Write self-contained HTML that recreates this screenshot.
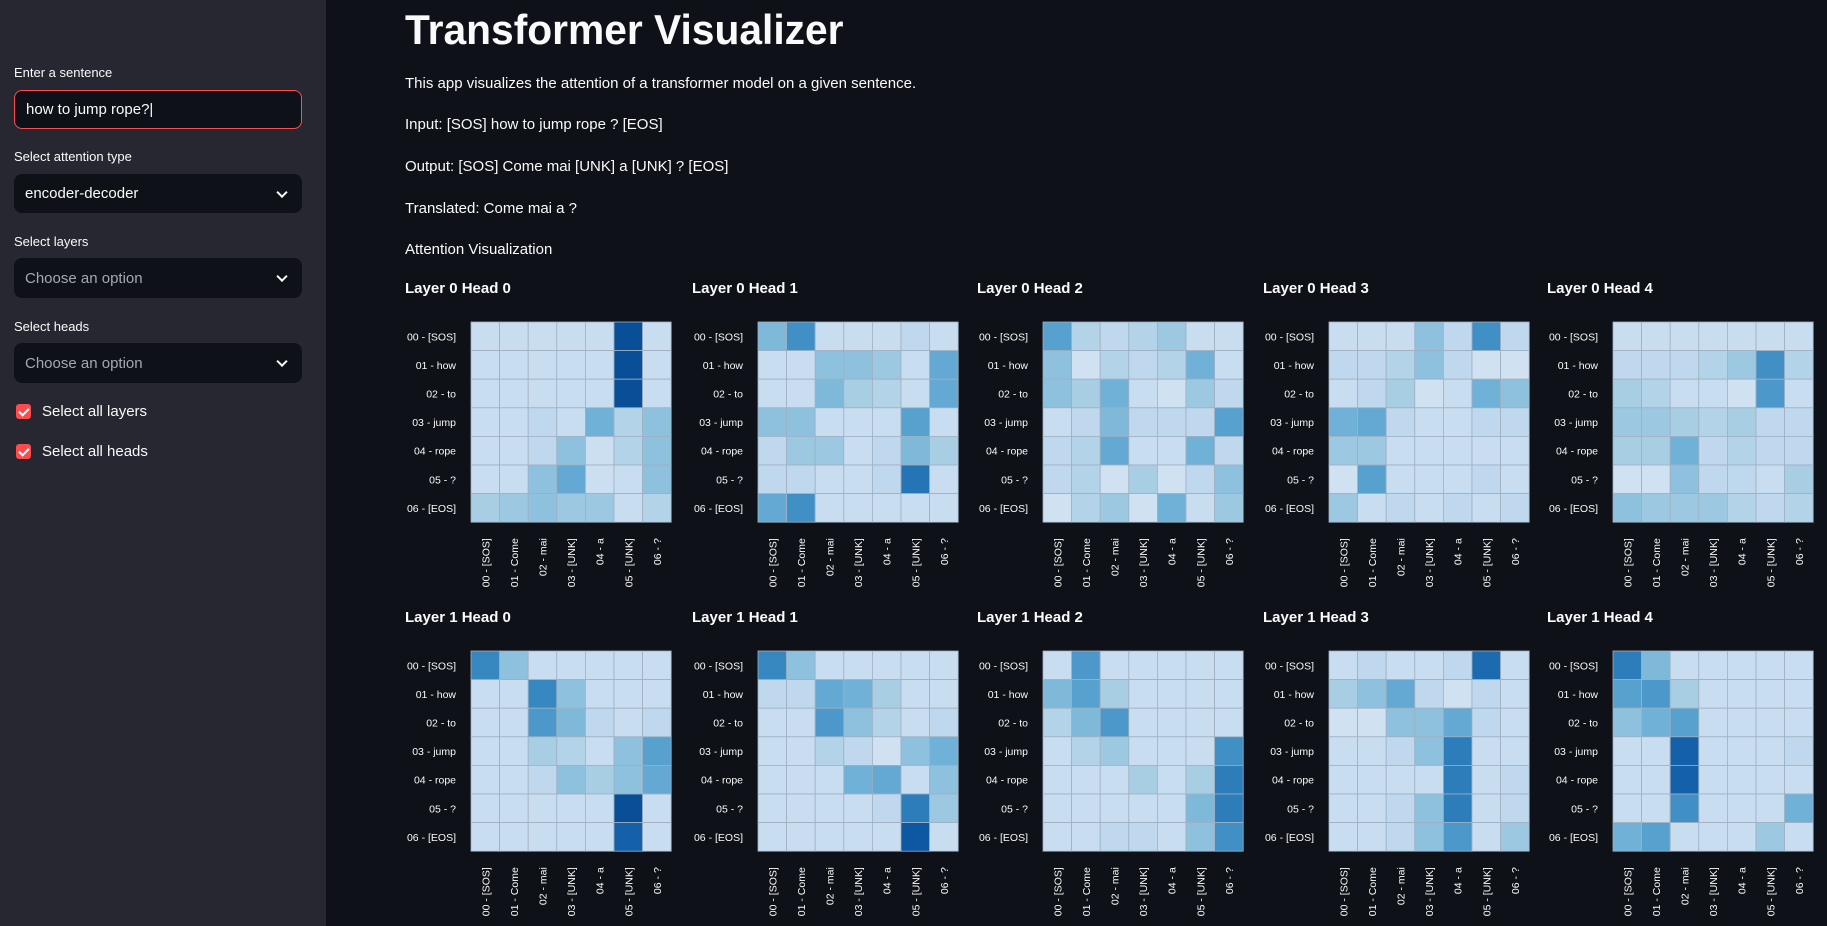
<!DOCTYPE html>
<html><head><meta charset="utf-8">
<style>
*{box-sizing:border-box;margin:0;padding:0}
body{width:1827px;height:926px;overflow:hidden;background:#0e1117;font-family:"Liberation Sans",sans-serif;color:#fafafa;position:relative}
#sidebar{position:absolute;left:0;top:0;width:326px;height:926px;background:#262730}
.lbl{position:absolute;left:14px;font-size:13px;color:#fafafa}
.box{position:absolute;left:14px;width:288px;border-radius:8px;background:#0e1117;font-size:15px;padding-left:11px;display:flex;align-items:center}
.chev{position:absolute;right:16px;top:50%;width:8px;height:8px;border-right:2px solid #fafafa;border-bottom:2px solid #fafafa;transform:translateY(-70%) rotate(45deg)}
.cb{position:absolute;left:16px;width:15px;height:15px;border-radius:3px;background:#ff4b4b}
.cb:after{content:"";position:absolute;left:4.5px;top:1.5px;width:4px;height:8px;border-right:2px solid #fff;border-bottom:2px solid #fff;transform:rotate(45deg)}
.cbl{position:absolute;left:42px;font-size:15px}
.t{position:absolute;left:405px;font-size:15px;white-space:nowrap}
#title{position:absolute;left:405px;top:6px;font-size:42px;font-weight:bold;white-space:nowrap;transform-origin:left top;transform:scaleX(0.97)}
svg{position:absolute;left:0;top:0}
</style></head><body>
<div id="sidebar">
  <div class="lbl" style="top:65px">Enter a sentence</div>
  <div class="box" style="top:90px;height:39px;border:1px solid #ff4b4b">how to jump rope?|</div>
  <div class="lbl" style="top:149px">Select attention type</div>
  <div class="box" style="top:174px;height:39px">encoder-decoder<span class="chev"></span></div>
  <div class="lbl" style="top:234px">Select layers</div>
  <div class="box" style="top:258px;height:40px;color:#a3a8b4">Choose an option<span class="chev"></span></div>
  <div class="lbl" style="top:319px">Select heads</div>
  <div class="box" style="top:343px;height:40px;color:#a3a8b4">Choose an option<span class="chev"></span></div>
  <div class="cb" style="top:404px"></div>
  <div class="cbl" style="top:403px">Select all layers</div>
  <div class="cb" style="top:444px"></div>
  <div class="cbl" style="top:443px">Select all heads</div>
</div>
<div id="title">Transformer Visualizer</div>
<div class="t" style="top:75px">This app visualizes the attention of a transformer model on a given sentence.</div>
<div class="t" style="top:116px">Input: [SOS] how to jump rope ? [EOS]</div>
<div class="t" style="top:158px">Output: [SOS] Come mai [UNK] a [UNK] ? [EOS]</div>
<div class="t" style="top:200px">Translated: Come mai a ?</div>
<div class="t" style="top:241px">Attention Visualization</div>
<svg id="charts" width="1827" height="926"></svg>
<script>
const rowLabels=["00 - [SOS]","01 - how","02 - to","03 - jump","04 - rope","05 - ?","06 - [EOS]"];
const colLabels=["00 - [SOS]","01 - Come","02 - mai","03 - [UNK]","04 - a","05 - [UNK]","06 - ?"];
const titles=["Layer 0 Head 0","Layer 0 Head 1","Layer 0 Head 2","Layer 0 Head 3","Layer 0 Head 4","Layer 1 Head 0","Layer 1 Head 1","Layer 1 Head 2","Layer 1 Head 3","Layer 1 Head 4"];
const L0H0=[[.05,.05,.05,.05,.05,.95,.05],[.05,.05,.05,.05,.05,.95,.05],[.05,.05,.05,.05,.05,.95,.05],[.05,.05,.1,.05,.4,.15,.3],[.05,.05,.1,.3,.03,.15,.3],[.05,.05,.3,.45,.03,.05,.3],[.2,.25,.3,.25,.25,.05,.15]];
const L0H1=[[.35,.6,.05,.05,.05,.1,.05],[.05,.05,.3,.3,.25,.05,.45],[.05,.05,.35,.2,.15,.05,.45],[.3,.3,.05,.05,.05,.5,.05],[.1,.25,.25,.05,.1,.35,.2],[.1,.1,.05,.05,.1,.75,.05],[.45,.6,.05,.05,.05,.05,.05]];
const L0H2=[[.5,.15,.1,.15,.25,.05,.05],[.3,0,.15,.1,.15,.4,.05],[.3,.2,.4,.05,0,.25,.1],[.05,.1,.35,.1,.1,.1,.5],[.1,.15,.45,.05,.05,.4,.1],[.1,.15,0,.2,0,.1,.3],[0,.15,.25,0,.4,.05,.25]];
const L0H3=[[.05,.05,.05,.3,.1,.6,.1],[.1,.1,.15,.3,.1,0,0],[.05,.1,.2,0,.05,.4,.3],[.4,.45,.1,.05,.05,.1,.1],[.25,.25,.05,.05,.05,.05,.05],[0,.5,.05,.05,.05,.1,.05],[.25,.05,.1,.05,.1,.05,.1]];
const L0H4=[[.05,.05,.05,.05,.05,.05,.05],[.1,.1,.1,.15,.25,.6,.15],[.2,.15,.05,.05,0,.55,.05],[.25,.25,.2,.15,.2,.1,.1],[.2,.2,.4,.1,.15,.1,.1],[0,0,.3,.1,.1,.05,.2],[.3,.25,.25,.25,.15,.1,.15]];
const L1H0=[[.65,.3,.05,.05,.05,.05,.05],[.05,.05,.65,.3,.05,.05,.05],[.05,.05,.55,.35,.1,.05,.1],[.05,.05,.2,.15,.05,.3,.5],[.05,.05,.1,.3,.2,.3,.45],[.05,.05,.05,.05,.05,.95,.05],[.05,.05,.05,.05,.05,.85,.05]];
const L1H1=[[.65,.3,.05,.05,.05,.05,.05],[.1,.1,.45,.4,.2,.05,.05],[.05,.05,.55,.3,.15,.05,.1],[.05,.05,.15,.1,0,.3,.4],[.05,.05,.05,.4,.45,.05,.3],[.05,.05,.05,.05,.1,.7,.25],[.05,.05,.05,.05,.05,.9,.05]];
const L1H2=[[.05,.55,.05,.05,.05,.05,.05],[.35,.5,.2,.05,.05,.05,.05],[.15,.35,.55,.05,.05,.05,.05],[.05,.15,.25,.05,.05,.05,.6],[.05,.05,.05,.2,.05,.2,.7],[.05,.05,.05,.05,.05,.35,.7],[.05,.05,.1,.1,.05,.3,.6]];
const L1H3=[[.05,.1,.05,.05,.1,.8,.05],[.2,.3,.45,.1,0,.1,.05],[0,0,.3,.3,.45,.1,.05],[.05,.05,.1,.3,.7,.05,.05],[.05,.05,.05,.05,.7,.05,.1],[.05,.05,.1,.3,.7,.05,.1],[.05,.05,.1,.3,.55,.05,.25]];
const L1H4=[[.7,.35,.05,.05,.05,.05,.05],[.5,.55,.2,.05,.05,.05,.05],[.3,.4,.5,.05,.05,.05,.05],[.05,.05,.85,.05,.05,.05,.1],[.05,.05,.85,.05,.05,.05,.05],[.05,.05,.6,.05,.05,.05,.4],[.4,.5,.05,.05,.05,.25,.05]];
const matrices=[L0H0,L0H1,L0H2,L0H3,L0H4,L1H0,L1H1,L1H2,L1H3,L1H4];

const stops=[[247,251,255],[222,235,247],[198,219,239],[158,202,225],[107,174,214],[66,146,198],[33,113,181],[8,81,156],[8,48,107]];
function blues(v){const t=Math.min(1,Math.max(0,0.2+v*0.72))*8;const i=Math.min(7,Math.floor(t)),f=t-i;const a=stops[i],b=stops[i+1];return `rgb(${a.map((c,k)=>Math.round(c+(b[k]-c)*f)).join(',')})`;}
const svg=document.getElementById('charts');const NS="http://www.w3.org/2000/svg";
function mk(tag,attrs,parent){const e=document.createElementNS(NS,tag);for(const k in attrs)e.setAttribute(k,attrs[k]);parent.appendChild(e);return e;}
const colX=[405,692,977,1263,1547], rowY=[287,616], cell=28.6;
function xScale(j){return 66+j*cell;} function yScale(i){return 35+i*cell;}
matrices.forEach((m,idx)=>{
  const g=mk('g',{transform:`translate(${colX[idx%5]},${rowY[Math.floor(idx/5)]})`},svg);
  
  
  const tt=mk('text',{x:0,y:6,'font-size':15,'font-weight':'bold',fill:'#fafafa'},g);tt.textContent=titles[idx];
  
  
  m.forEach((row,i)=>row.forEach((v,j)=>{
    const r=mk('rect',{x:xScale(j),y:yScale(i),width:cell,height:cell,fill:blues(v),stroke:'#9fb0c2','stroke-width':0.8},g);
    
    
  }));
  rowLabels.forEach((l,i)=>{const t=mk('text',{x:xScale(0)-15,y:yScale(i)+cell/2+4,'text-anchor':'end','font-size':10.5,fill:'#fafafa'},g);t.textContent=l;
    
    });
  colLabels.forEach((l,j)=>{const cx=xScale(j)+cell/2+4,cy=yScale(7)+16;const t=mk('text',{x:cx,y:cy,'text-anchor':'end','font-size':10.5,fill:'#fafafa',transform:`rotate(-90 ${cx} ${cy})`},g);t.textContent=l;
    
    });
});
</script>
</body></html>
